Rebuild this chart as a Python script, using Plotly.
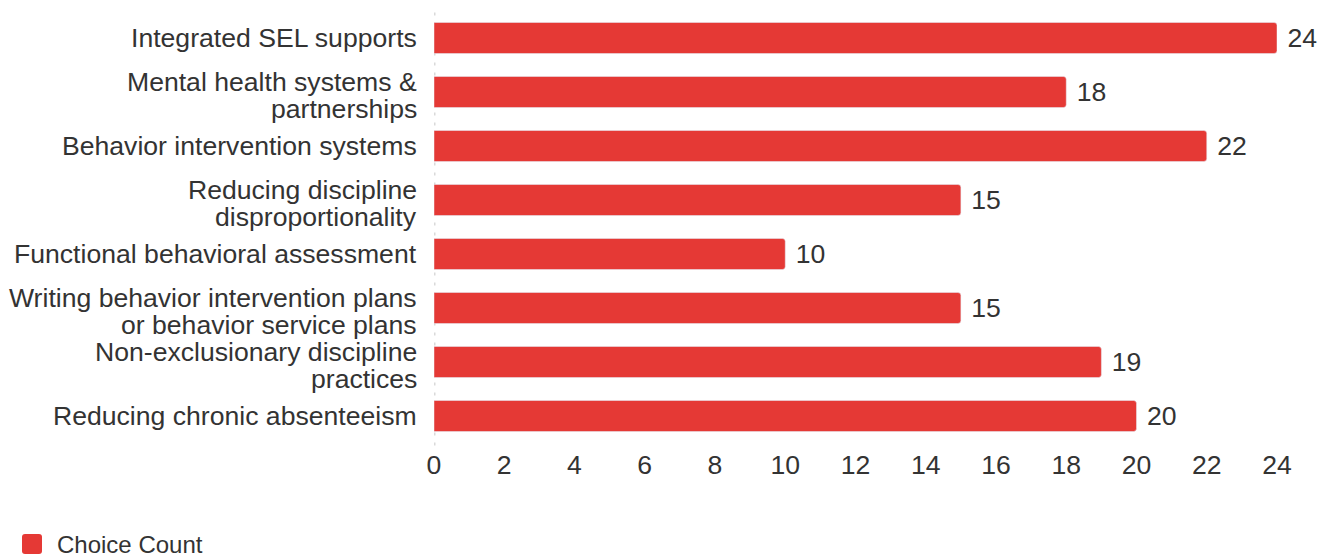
import plotly.graph_objects as go

categories = [
    "Integrated SEL supports",
    "Mental health systems &\npartnerships",
    "Behavior intervention systems",
    "Reducing discipline\ndisproportionality",
    "Functional behavioral assessment",
    "Writing behavior intervention plans\nor behavior service plans",
    "Non-exclusionary discipline\npractices",
    "Reducing chronic absenteeism",
]
choice_count = [24, 18, 22, 15, 10, 15, 19, 20]
x_ticks = list(range(0, 25, 2))
series_name = "Choice Count"

BAR_COLOR = "#e53935"
TEXT_COLOR = "#333333"
FONT = "Liberation Sans, Arial, sans-serif"
LABEL_SIZE = 26.6
LINE_STEP = 26.5

fig = go.Figure()
fig.add_trace(go.Bar(
    y=categories,
    x=choice_count,
    orientation="h",
    marker=dict(color=BAR_COLOR, cornerradius=3),
    texttemplate="\u00a0%{x}",
    textposition="outside",
    textfont=dict(size=LABEL_SIZE, color=TEXT_COLOR, family=FONT),
    cliponaxis=False,
    name=series_name,
    showlegend=False,
))

# category labels, one annotation per text line so the lines sit tightly
for cat in categories:
    lines = cat.split("\n")
    if len(lines) == 1:
        offsets = [0]
    else:
        offsets = [10 - LINE_STEP * i for i in range(len(lines))]
    for line, off in zip(lines, offsets):
        fig.add_annotation(
            xref="paper", x=0, xanchor="right", xshift=-15,
            yref="y", y=cat, yanchor="middle", yshift=off,
            text=line, showarrow=False,
            font=dict(size=LABEL_SIZE, color=TEXT_COLOR, family=FONT),
        )

# dotted baseline at zero
fig.add_shape(type="line", xref="x", yref="paper", x0=0, x1=0, y0=-0.006, y1=1.012,
              line=dict(color="#d9d9d9", width=3, dash="3px,7px"), layer="below")

# legend: rounded swatch and series name below the plot
fig.add_shape(
    type="path", xref="paper", yref="paper",
    xsizemode="pixel", ysizemode="pixel", xanchor=0, yanchor=0,
    path="M -409,-91 L -395,-91 Q -392,-91 -392,-94 L -392,-108 Q -392,-111 -395,-111 "
         "L -409,-111 Q -412,-111 -412,-108 L -412,-94 Q -412,-91 -409,-91 Z",
    fillcolor=BAR_COLOR, line=dict(width=0),
)
fig.add_annotation(
    xref="paper", x=0, xanchor="left", xshift=-379,
    yref="paper", y=0, yanchor="middle", yshift=-101,
    text=series_name, showarrow=False,
    font=dict(size=24, color=TEXT_COLOR, family=FONT),
)

fig.update_layout(
    width=1329, height=557,
    margin=dict(l=434, r=52, t=11, b=114),
    paper_bgcolor="white", plot_bgcolor="white",
    font=dict(family=FONT, size=LABEL_SIZE, color=TEXT_COLOR),
    bargap=0.426,
    xaxis=dict(
        range=[0, 24], tickvals=x_ticks, showgrid=False, zeroline=False,
        showline=False, ticks="", tickfont=dict(size=LABEL_SIZE, color=TEXT_COLOR),
        ticklabelstandoff=3,
    ),
    yaxis=dict(
        autorange="reversed", showgrid=False, zeroline=False, showline=False,
        ticks="", showticklabels=False,
    ),
    showlegend=False,
)

fig.write_html("out.html")
